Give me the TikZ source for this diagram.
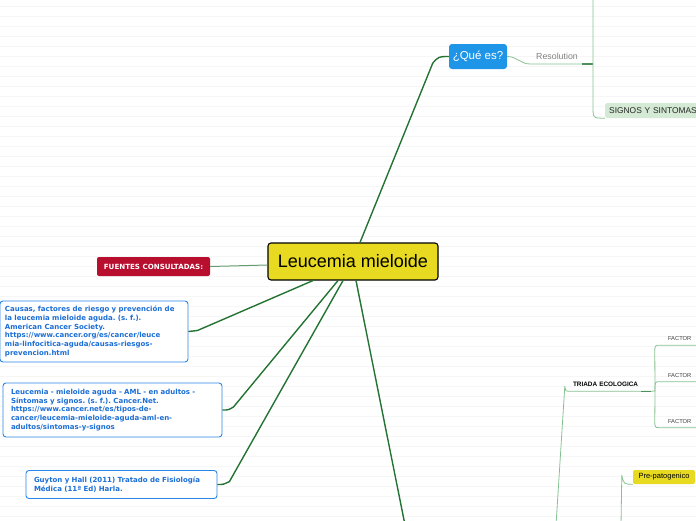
\documentclass[tikz,border=0pt]{standalone}
\usepackage{fontspec}
\setmainfont{Liberation Sans}
\newfontfamily\reffont{DejaVu Sans}
\usetikzlibrary{calc}
\frenchspacing

\definecolor{branchgreen}{HTML}{237332}
\definecolor{twiggreen}{HTML}{86C191}
\definecolor{titleyellow}{HTML}{E7DA20}
\definecolor{queblue}{HTML}{1F95E7}
\definecolor{fuentesred}{HTML}{B80F2E}
\definecolor{refblue}{HTML}{2A86E6}
\definecolor{reftext}{HTML}{1B6ED6}
\definecolor{signosgreen}{HTML}{D4EAD4}
\definecolor{paperline}{HTML}{F6F6F6}

\begin{document}
\begin{tikzpicture}[x=1pt, y=-1pt, line join=round,
  mainbranch/.style={draw=branchgreen, line width=1.4pt},
  twig/.style={draw=twiggreen, line width=0.8pt},
  refbox/.style={draw=refblue, line width=0.9pt, fill=white, rounded corners=3pt, align=left,
    text=reftext, font=\reffont\bfseries\fontsize{7}{8.7}\selectfont},
  smalltext/.style={inner ysep=0pt, font=\fontsize{5.8}{7}\selectfont, text=black!75}]

  % Define the page and the lined paper
  \path[use as bounding box] (0,0) rectangle (696,520);
  \clip (0,0) rectangle (696,520);
  \foreach \k in {0,...,51}
    \draw[paperline, line width=0.6pt] (0,{6+10*\k}) -- (696,{6+10*\k});

  % Define the free ends of the branches
  \coordinate (hub) at (593,64);
  \coordinate (topend) at (593,-5);
  \coordinate (lowend) at (405,525);
  \coordinate (triadaend) at (556,525);
  \coordinate (prepatend) at (621,525);
  \coordinate (jn) at (655,391);

  % Draw the central topic
  \node[draw=black, line width=1.1pt, fill=titleyellow, rounded corners=3pt, minimum width=170pt,
    minimum height=37pt, inner sep=0pt, font=\fontsize{18}{20}\selectfont] (leuc) at (353,261.5) {Leucemia mieloide};

  % Draw the main topics
  \node[fill=queblue, rounded corners=3pt, minimum width=58pt, minimum height=25pt, inner sep=0pt,
    text=white, font=\fontsize{11.5}{13}\selectfont] (quees) at (478,56.5) {¿Qué es?};
  \node[fill=fuentesred, rounded corners=2pt, minimum width=113pt, minimum height=19pt, inner sep=0pt,
    text=white, font=\reffont\bfseries\fontsize{7.1}{8}\selectfont] (fuentes) at (153.5,266.5) {FUENTES CONSULTADAS:};

  % Draw the references
  \node[refbox, text width=178pt, inner xsep=5pt, minimum height=61pt] (ref1) at (94,331.5)
    {Causas, factores de riesgo y prevención de\\ la leucemia mieloide aguda. (s. f.).\\ American Cancer Society.\\
     https://www.cancer.org/es/cancer/leuce\\ mia-linfocitica-aguda/causas-riesgos-\\ prevencion.html};
  \node[refbox, text width=203pt, inner xsep=8pt, minimum height=54pt] (ref2) at (112.5,410)
    {Leucemia - mieloide aguda - AML - en adultos -\\ Síntomas y signos. (s. f.). Cancer.Net.\\
     https://www.cancer.net/es/tipos-de-\\ cancer/leucemia-mieloide-aguda-aml-en-\\ adultos/sintomas-y-signos};
  \node[refbox, text width=175pt, inner xsep=8pt, minimum height=28pt] (ref3) at (121.5,484.5)
    {Guyton y Hall (2011) Tratado de Fisiología\\ Médica (11ª Ed) Harla.};

  % Draw the subtopics on the right
  \node[text=black!50, font=\fontsize{8.8}{10}\selectfont, inner sep=0pt] (resol) at (557,56.5) {Resolution};
  \node[fill=signosgreen, rounded corners=2pt, anchor=west, minimum height=15pt, inner xsep=4pt, text width=112pt,
    align=left, text=black!85, font=\fontsize{8.4}{10}\selectfont] (signos) at (605,110.5) {SIGNOS Y SINTOMAS};
  \node[smalltext, text=black, font=\bfseries\fontsize{6.4}{8}\selectfont, text width=73pt, inner xsep=5pt,
    align=left, minimum height=14pt] (triada) at (609.5,384) {TRIADA ECOLOGICA};
  \node[smalltext, text width=28pt, inner xsep=8pt, align=left, minimum height=13pt] (factor1) at (682,338.5) {FACTOR};
  \node[smalltext, text width=28pt, inner xsep=8pt, align=left, minimum height=13pt] (factor2) at (682,375) {FACTOR};
  \node[smalltext, text width=28pt, inner xsep=8pt, align=left, minimum height=13pt] (factor3) at (682,421) {FACTOR};
  \node[fill=titleyellow, rounded corners=2pt, minimum width=62pt, minimum height=14pt, inner sep=0pt,
    font=\fontsize{7.5}{9}\selectfont] (prepat) at (664,477) {Pre-patogenico};

  % Draw the branches from the central topic
  \draw[mainbranch] ($(leuc.north)+(7,0)$) -- ($(quees.west)+(-16,6.5)$)
    .. controls ($(quees.west)+(-10,0)$) .. (quees.west);
  \draw[mainbranch, line width=1pt, draw=branchgreen!70] ($(leuc.west)+(0,3.5)$) -- (fuentes.east);
  \draw[mainbranch] ($(leuc.south)+(-40,0)$) -- ($(ref1.east)+(9,-1)$)
    .. controls ($(ref1.east)+(5,0)$) .. (ref1.east);
  \draw[mainbranch] ($(leuc.south)+(-15,0)$) -- ($(ref2.east)+(11,-3)$)
    .. controls ($(ref2.east)+(6,0)$) .. (ref2.east);
  \draw[mainbranch] ($(leuc.south)+(-10,0)$) -- ($(ref3.east)+(12,-3)$)
    .. controls ($(ref3.east)+(6,0)$) .. (ref3.east);
  \draw[mainbranch] ($(leuc.south)+(3,0)$) -- (lowend);

  % Draw the twigs of the subtopics
  \draw[twig] (quees.east) .. controls ($(quees.east)+(10,0)$) and ($(quees.east)+(13,7.5)$) .. ($(quees.east)+(23,7.5)$) -- (hub);
  \draw[twig, line width=1.4pt, draw=branchgreen!80!white] ($(hub)+(-11,0)$) -- (hub);
  \draw[twig] (topend) -- ($(signos.south west)+(-12,-12)$) .. controls ($(signos.south west)+(-12,0)$) .. (signos.south west);
  \draw[twig] (triadaend) -- ($(triada.south west)+(-3,-5)$) .. controls ($(triada.south west)+(-2,0)$) .. (triada.south west)
    -- (triada.south east) -- (jn);
  \draw[twig, line width=1.4pt, draw=branchgreen!80!white] ($(triada.south east)+(-10,0)$) -- (triada.south east);
  \draw[twig] (jn) -- ($(factor1.south west)+(-5,8)$) .. controls ($(factor1.south west)+(-5,0)$) .. (factor1.south west)
    -- (factor1.south east);
  \draw[twig] (jn) .. controls ($(factor2.south west)+(-5,0)$) .. (factor2.south west) -- (factor2.south east);
  \draw[twig] (jn) -- ($(factor3.south west)+(-5,-8)$) .. controls ($(factor3.south west)+(-5,0)$) .. (factor3.south west)
    -- (factor3.south east);
  \draw[twig] (prepatend) -- ($(prepat.south west)+(-11,-9)$) .. controls ($(prepat.south west)+(-9,0)$) .. (prepat.south west);

\end{tikzpicture}
\end{document}
